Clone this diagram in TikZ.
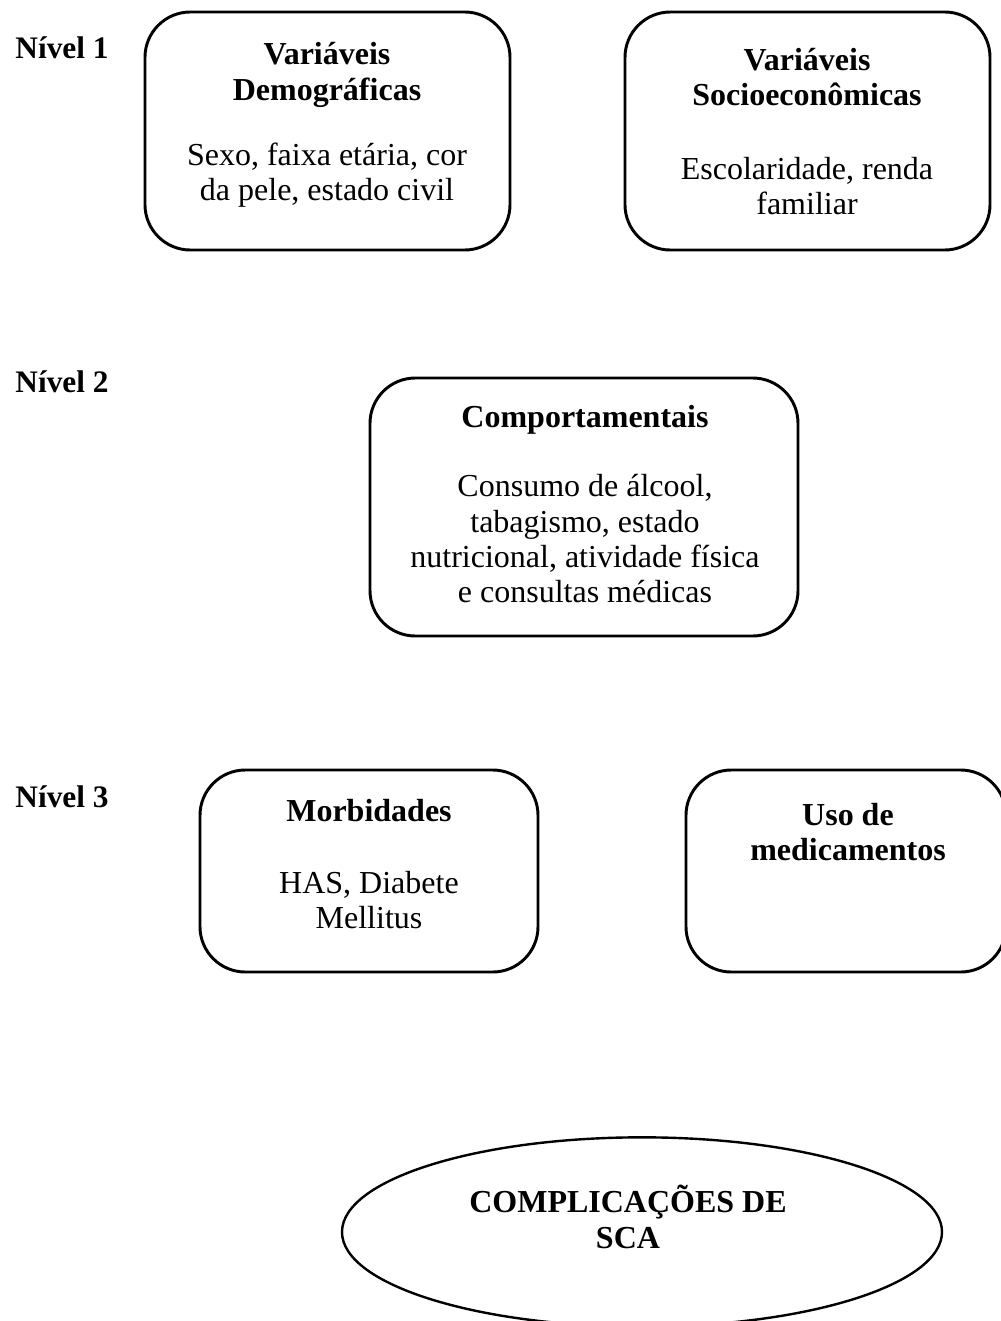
\documentclass[tikz,border=0pt]{standalone}
\usepackage{fontspec}
\setmainfont{Liberation Serif}
\usetikzlibrary{shapes.geometric}
\begin{document}
\begin{tikzpicture}[x=0.75pt,y=-0.75pt,
  box/.style={draw=black,line width=2.2pt,rounded corners=34pt,inner sep=0pt},
  oval/.style={draw=black,line width=1.8pt,ellipse,inner sep=0pt},
  ttl/.style={font=\fontsize{24}{26.5}\selectfont\bfseries,align=center,inner sep=0pt},
  bdy/.style={font=\fontsize{24}{26.5}\selectfont,align=center,inner sep=0pt},
  lvl/.style={font=\fontsize{23.5}{26}\selectfont\bfseries,inner sep=0pt}]
\useasboundingbox (0,0) rectangle (1000,1321);
% boxes
\node[box,minimum width=273.75pt,minimum height=178.5pt] (b1) at (327.5,131) {};
\node[box,minimum width=273.75pt,minimum height=178.5pt] (b2) at (807.5,131) {};
\node[box,minimum width=321pt,minimum height=193.5pt] (b3) at (584,507) {};
\node[box,minimum width=253.5pt,minimum height=151.5pt] (b4) at (369,871) {};
\node[box,minimum width=240pt,minimum height=151.5pt] (b5) at (846,871) {};
\node[oval,minimum width=450pt,minimum height=142pt] (e) at (642,1232) {};
% level labels
\node[lvl] (n1) at (62,48) {Nível 1};
\node[lvl] (n2) at (62,382) {Nível 2};
\node[lvl] (n3) at (62,797) {Nível 3};
% texts
\node[ttl] (t1) at (327,75) {Variáveis\\Demográficas};
\node[bdy] (d1) at (327,175) {Sexo, faixa etária, cor\\da pele, estado civil};
\node[ttl] (t2) at (807,77) {Variáveis\\Socioeconômicas};
\node[bdy] (d2) at (807,186) {Escolaridade, renda\\familiar};
\node[ttl] (t3) at (585,420) {Comportamentais};
\node[bdy] (d3) at (585,539) {Consumo de álcool,\\tabagismo, estado\\nutricional, atividade física\\e consultas médicas};
\node[ttl] (t4) at (369,811) {Morbidades};
\node[bdy] (d4) at (369,900) {HAS, Diabete\\Mellitus};
\node[ttl] (t5) at (848,832) {Uso de\\medicamentos};
\node[ttl] (te) at (628,1217) {COMPLICAÇÕES DE\\SCA};
\end{tikzpicture}
\end{document}
